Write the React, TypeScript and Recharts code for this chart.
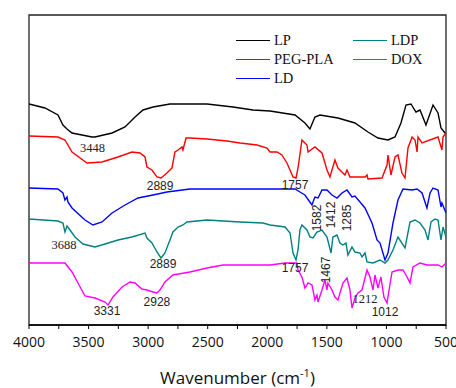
import React from "react";
import { LineChart, Line, XAxis, YAxis, ReferenceArea, ReferenceDot } from "recharts";

// [wavenumber, stacked transmittance (a.u.)]
const LP: [number, number][] = [
  [4000, 221], [3866, 217], [3757, 210], [3715, 200], [3681, 196], [3639, 192], [3471, 188], [3446, 188],
  [3303, 192], [3194, 198], [3110, 208], [3043, 215], [2959, 218], [2817, 221], [2506, 221], [2288, 218],
  [2120, 215], [1977, 214], [1767, 210], [1684, 202], [1642, 196], [1600, 208], [1558, 210], [1407, 207],
  [1264, 202], [1155, 193], [1071, 187], [987, 185], [928, 188], [878, 202], [836, 220], [794, 221],
  [752, 213], [718, 215], [668, 200], [609, 220], [567, 212], [542, 197], [508, 192], [500, 191],
];

const PEG_PLA: [number, number][] = [
  [4000, 189], [3757, 188], [3698, 185], [3639, 173], [3513, 162], [3387, 163], [3253, 168], [3136, 173],
  [3068, 172], [3026, 168], [3010, 158], [2968, 155], [2926, 148], [2892, 147], [2842, 152], [2800, 157],
  [2775, 173], [2749, 175], [2716, 178], [2708, 175], [2682, 187], [2649, 187], [2506, 186], [2338, 184],
  [2229, 182], [2086, 180], [2002, 177], [1977, 173], [1918, 173], [1877, 170], [1835, 162], [1784, 148],
  [1759, 147], [1742, 157], [1709, 185], [1667, 180], [1658, 173], [1600, 178], [1541, 172], [1499, 155],
  [1474, 148], [1432, 165], [1407, 157], [1348, 150], [1331, 155], [1306, 148], [1264, 148], [1178, 148],
  [1163, 150], [1155, 146], [1037, 147], [995, 160], [987, 170], [962, 150], [928, 168], [903, 170],
  [870, 152], [844, 147], [819, 177], [785, 188], [760, 185], [743, 173], [735, 188], [701, 182],
  [567, 188], [534, 175], [525, 188], [500, 192],
];

const LD: [number, number][] = [
  [4000, 137], [3757, 136], [3715, 132], [3698, 125], [3681, 128], [3673, 123], [3639, 117], [3530, 105],
  [3463, 100], [3387, 103], [3303, 112], [3194, 120], [3085, 127], [2959, 130], [2842, 133], [2649, 136],
  [1977, 136], [1767, 136], [1726, 133], [1684, 130], [1625, 120], [1616, 123], [1600, 128], [1574, 127],
  [1541, 135], [1499, 135], [1457, 130], [1415, 127], [1373, 132], [1331, 135], [1289, 128], [1264, 129],
  [1222, 123], [1180, 117], [1121, 102], [1079, 85], [1054, 82], [1012, 65], [987, 72], [945, 102],
  [903, 125], [861, 136], [785, 135], [743, 136], [701, 132], [660, 117], [634, 132], [609, 137],
  [567, 135], [542, 118], [534, 122], [500, 112],
];

const LDP: [number, number][] = [
  [4000, 106], [3757, 104], [3715, 102], [3698, 93], [3681, 99], [3656, 95], [3614, 88], [3547, 81],
  [3446, 78], [3362, 81], [3253, 85], [3136, 88], [3026, 92], [3010, 87], [2968, 82], [2926, 73],
  [2892, 67], [2859, 72], [2817, 85], [2792, 93], [2749, 98], [2708, 100], [2674, 103], [2506, 105],
  [2229, 103], [2036, 102], [1977, 100], [1851, 98], [1809, 92], [1784, 72], [1759, 65], [1742, 75],
  [1726, 95], [1709, 100], [1667, 95], [1642, 88], [1616, 87], [1583, 93], [1541, 95], [1499, 88],
  [1465, 72], [1449, 88], [1415, 90], [1390, 82], [1365, 80], [1340, 82], [1323, 70], [1289, 78],
  [1264, 73], [1222, 72], [1205, 68], [1180, 72], [1163, 63], [1113, 62], [1054, 65], [1012, 62],
  [987, 65], [945, 75], [903, 88], [844, 77], [802, 103], [760, 105], [718, 102], [676, 95],
  [651, 85], [626, 103], [592, 106], [567, 105], [542, 85], [525, 98], [500, 88],
];

const DOX: [number, number][] = [
  [4000, 62], [3698, 62], [3639, 53], [3589, 42], [3530, 29], [3446, 27], [3362, 23], [3337, 20],
  [3295, 28], [3219, 38], [3152, 43], [3110, 42], [3052, 36], [3010, 35], [2959, 33], [2926, 32],
  [2901, 35], [2859, 43], [2792, 50], [2649, 53], [2506, 57], [2372, 60], [1977, 60], [1851, 62],
  [1751, 62], [1742, 55], [1709, 48], [1684, 37], [1658, 42], [1625, 40], [1600, 25], [1583, 30],
  [1574, 23], [1541, 35], [1516, 45], [1499, 35], [1491, 42], [1457, 35], [1432, 28], [1407, 25],
  [1365, 42], [1331, 47], [1306, 35], [1289, 17], [1264, 27], [1239, 32], [1205, 35], [1163, 55],
  [1138, 48], [1113, 35], [1096, 50], [1071, 37], [1046, 48], [1021, 28], [995, 22], [978, 35],
  [953, 53], [903, 55], [861, 55], [827, 48], [802, 42], [777, 58], [718, 62], [660, 60],
  [567, 60], [534, 58], [500, 62],
];

const SERIES = [
  { name: "LP", color: "#000000", pts: LP },
  { name: "PEG-PLA", color: "#ff0000", pts: PEG_PLA },
  { name: "LD", color: "#0000ff", pts: LD },
  { name: "LDP", color: "#008080", pts: LDP },
  { name: "DOX", color: "#ff00ff", pts: DOX },
];

// peak labels: text, wavenumber, y, serif?, rotated?
const PEAKS: [string, number, number, boolean, boolean][] = [
  ["3448", 3467, 177, true, false],
  ["2889", 2900, 139, false, false],
  ["1757", 1767, 140, false, false],
  ["1582", 1583, 107, false, true],
  ["1412", 1465, 110, false, true],
  ["1285", 1331, 107, false, true],
  ["3688", 3706, 80, true, false],
  ["2889", 2875, 61, false, false],
  ["1757", 1767, 57, false, false],
  ["1467", 1507, 55, false, true],
  ["3331", 3345, 14, false, false],
  ["2928", 2926, 23, false, false],
  ["1212", 1180, 26, true, false],
  ["1012", 1012, 13, false, false],
];

const X_TICKS = [4000, 3750, 3500, 3250, 3000, 2750, 2500, 2250, 2000, 1750, 1500, 1250, 1000, 750, 500];

const LEGEND_COLS = [["LP", "PEG-PLA", "LD"], ["LDP", "DOX"]];

const AxisTitle = ({ viewBox }: any) => (
  <text
    x={viewBox.x + viewBox.width / 2}
    y={viewBox.y + 59}
    textAnchor="middle"
    fontFamily="Open Sans"
    fontSize={17}
    fill="#111"
  >
    Wavenumber (cm<tspan fontSize={11} dy={-7}>-1</tspan>
    <tspan dy={7}>)</tspan>
  </text>
);

export default function App() {
  return (
    <div style={{ position: "absolute", left: 0, top: 0, width: 456, height: 388, background: "#fff" }}>
      <LineChart width={456} height={388} margin={{ top: 15, right: 10, left: 29, bottom: 0 }}>
        <XAxis
          dataKey="w"
          type="number"
          domain={[500, 4000]}
          reversed
          allowDataOverflow
          ticks={X_TICKS}
          interval={0}
          tickFormatter={(t: number) => (t % 500 === 0 ? String(t) : "")}
          height={63}
          tickSize={4}
          tickMargin={8}
          axisLine={{ stroke: "#000", strokeWidth: 1.3 }}
          tickLine={{ stroke: "#000" }}
          tick={{ fontSize: 14, fill: "#111", fontFamily: "Open Sans" }}
          label={<AxisTitle />}
        />
        <YAxis type="number" domain={[0, 310]} hide />
        <ReferenceArea x1={4000} x2={500} y1={0} y2={310} fill="none" stroke="#222" strokeWidth={1.3} ifOverflow="visible" />
        {SERIES.map((s) => (
          <Line
            key={s.name}
            name={s.name}
            data={s.pts.map(([w, v]) => ({ w, v }))}
            dataKey="v"
            stroke={s.color}
            strokeWidth={1.4}
            dot={false}
            type="linear"
            isAnimationActive={false}
          />
        ))}
        {PEAKS.map(([t, w, v, serif, rot], i) => (
          <ReferenceDot
            key={i}
            x={w}
            y={v}
            r={1}
            fill="none"
            stroke="none"
            ifOverflow="visible"
            label={{
              value: t,
              position: "center",
              angle: rot ? -90 : 0,
              fontSize: serif ? 12.5 : 12,
              fontFamily: serif ? "Liberation Serif" : "Liberation Sans",
              fill: "#222",
            }}
          />
        ))}
      </LineChart>
      <div style={{ position: "absolute", left: 236, top: 31, display: "flex", fontFamily: "Liberation Serif", fontSize: 14.5, color: "#111" }}>
        {LEGEND_COLS.map((col, ci) => (
          <div key={ci} style={{ width: ci === 0 ? 117 : 80 }}>
            {col.map((name) => {
              const s = SERIES.find((x) => x.name === name)!;
              return (
                <div key={name} style={{ height: 19, display: "flex", alignItems: "center" }}>
                  <span style={{ width: 34, height: 1.5, background: s.color, marginRight: 4, display: "inline-block" }} />
                  <span>{name}</span>
                </div>
              );
            })}
          </div>
        ))}
      </div>
    </div>
  );
}
